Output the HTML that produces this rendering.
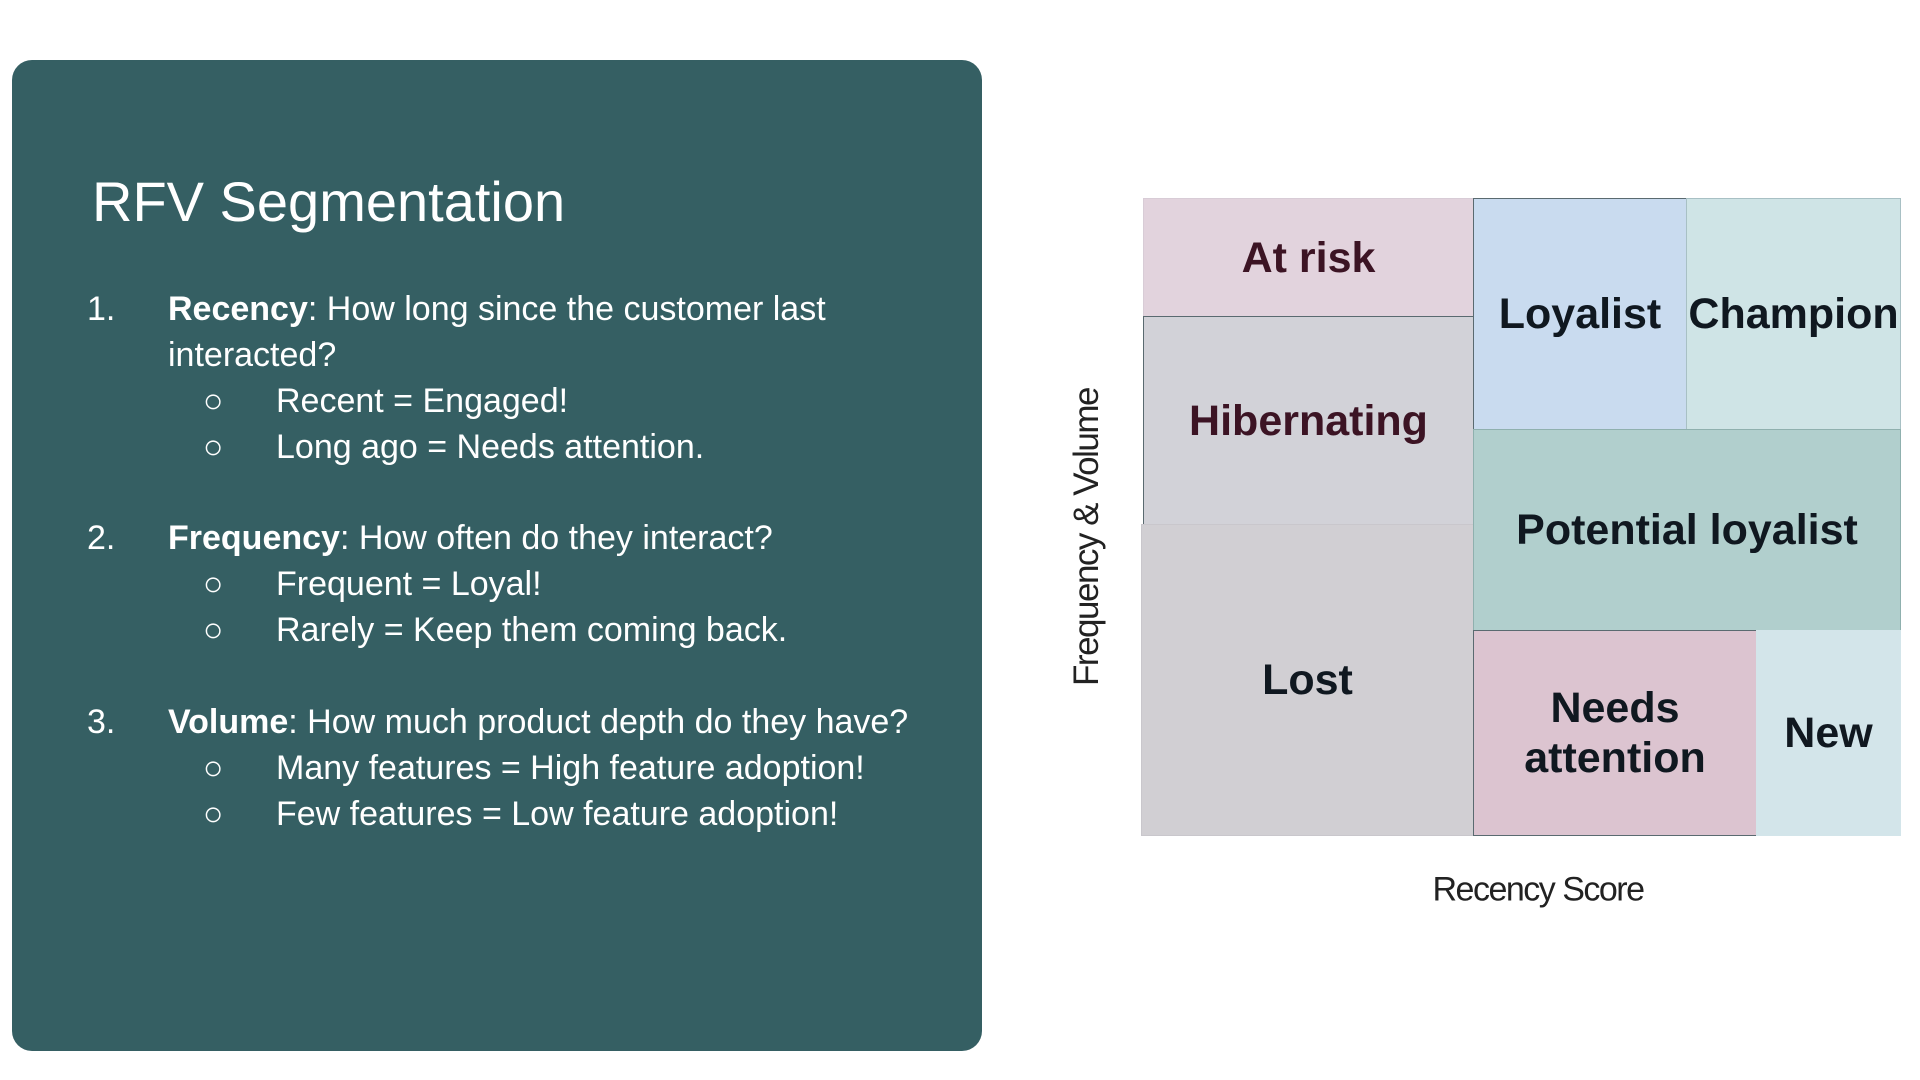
<!DOCTYPE html>
<html><head><style>
body{margin:0;width:1920px;height:1080px;background:#fff;position:relative;overflow:hidden;font-family:"Liberation Sans",sans-serif}
.panel{position:absolute;left:12px;top:60px;width:970px;height:991px;background:#355f63;border-radius:20px}
.t{position:absolute;color:#fff;white-space:nowrap}
.title{left:92px;top:172px;font-size:56px;line-height:60px}
.l{font-size:34px;line-height:40px}
.c{position:absolute;box-sizing:border-box;border:1.5px solid #5a6a70;display:flex;align-items:center;justify-content:center;text-align:center;font-weight:bold;font-size:43px;line-height:50px;color:#101820}
.m{color:#3c1424}
</style></head><body>
<div class="panel"></div>
<div class="t title">RFV Segmentation</div>
<div class="t l" style="left:87px;top:289px">1.</div>
<div class="t l" style="left:168px;top:289px"><b>Recency</b>: How long since the customer last</div>
<div class="t l" style="left:168px;top:335px">interacted?</div>
<div class="t l" style="left:203px;top:381px">○</div><div class="t l" style="left:276px;top:381px">Recent = Engaged!</div>
<div class="t l" style="left:203px;top:427px">○</div><div class="t l" style="left:276px;top:427px">Long ago = Needs attention.</div>
<div class="t l" style="left:87px;top:518px">2.</div>
<div class="t l" style="left:168px;top:518px"><b>Frequency</b>: How often do they interact?</div>
<div class="t l" style="left:203px;top:564px">○</div><div class="t l" style="left:276px;top:564px">Frequent = Loyal!</div>
<div class="t l" style="left:203px;top:610px">○</div><div class="t l" style="left:276px;top:610px">Rarely = Keep them coming back.</div>
<div class="t l" style="left:87px;top:702px">3.</div>
<div class="t l" style="left:168px;top:702px"><b>Volume</b>: How much product depth do they have?</div>
<div class="t l" style="left:203px;top:748px">○</div><div class="t l" style="left:276px;top:748px">Many features = High feature adoption!</div>
<div class="t l" style="left:203px;top:794px">○</div><div class="t l" style="left:276px;top:794px">Few features = Low feature adoption!</div>

<div class="c m" style="left:1143px;top:198px;width:331px;height:119px;background:#e2d3dd;border-color:#d8ccd6">At risk</div>
<div class="c m" style="left:1143px;top:316px;width:331px;height:209px;background:#d2d2d8">Hibernating</div>
<div class="c" style="left:1141px;top:524px;width:333px;height:312px;background:#d1cfd3;border-color:#c9c7cc">Lost</div>
<div class="c" style="left:1473px;top:198px;width:214px;height:232px;background:#c9dbef">Loyalist</div>
<div class="c" style="left:1686px;top:198px;width:215px;height:232px;background:#cfe4e6;border-color:#a8c0c4">Champion</div>
<div class="c" style="left:1473px;top:429px;width:428px;height:202px;background:#b1cfcd;border-color:#8fb0ae">Potential loyalist</div>
<div class="c" style="left:1473px;top:630px;width:284px;height:206px;background:#dcc4d0">Needs<br>attention</div>
<div class="c" style="left:1756px;top:630px;width:145px;height:206px;background:#d3e5ea;border-color:#d3e5ea">New</div>

<div class="t" style="left:1538px;top:890px;transform:translate(-50%,-50%);color:#222;font-size:34px;letter-spacing:-1.5px">Recency Score</div>
<div class="t" style="left:1087px;top:537px;transform:translate(-50%,-50%) rotate(-90deg);color:#222;font-size:35px;letter-spacing:-1.5px">Frequency &amp; Volume</div>
</body></html>
